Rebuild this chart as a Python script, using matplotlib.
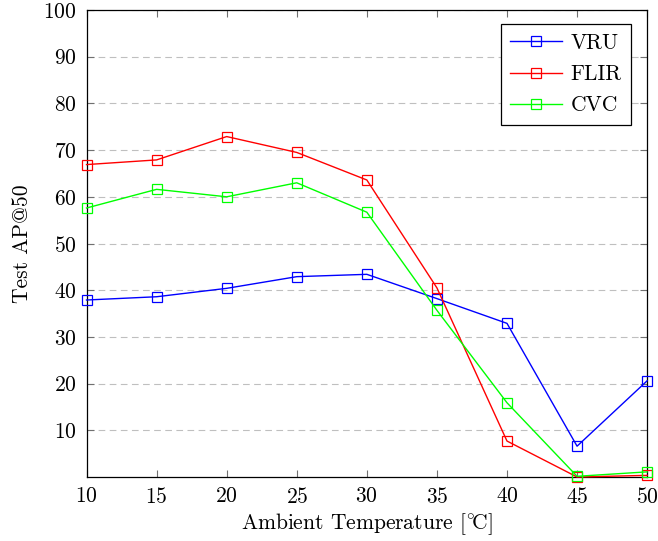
import matplotlib
matplotlib.use("Agg")
import matplotlib.pyplot as plt

plt.rcParams['font.family'] = ['cmr10', 'DejaVu Serif']
plt.rcParams['axes.formatter.use_mathtext'] = True
plt.rcParams['mathtext.fontset'] = 'cm'

temps = [10, 15, 20, 25, 30, 35, 40, 45, 50]
vru = [37.9, 38.6, 40.4, 42.9, 43.4, 38.2, 32.9, 6.6, 20.6]
flir = [66.9, 67.9, 72.9, 69.5, 63.6, 40.5, 7.7, 0.0, 0.35]
cvc = [57.6, 61.6, 60.0, 63.0, 56.7, 35.7, 15.9, 0.15, 1.1]

series = [("VRU", vru, "#0000ff"), ("FLIR", flir, "#ff0000"), ("CVC", cvc, "#00ff00")]

fs = 15.5

fig = plt.figure(figsize=(6.58, 5.41), dpi=100)
ax = fig.add_axes([0.1315, 0.1183, 0.852, 0.8632])

for name, vals, col in series:
    ax.plot(temps, vals, color=col, lw=1.0, marker='s', ms=7.5,
            mfc='none', mec=col, mew=0.9, label=name, clip_on=False, zorder=3)

ax.set_xlim(10, 50)
ax.set_ylim(0, 100)
ax.set_xticks(range(10, 51, 5))
ax.set_yticks(range(10, 101, 10))
ax.yaxis.grid(True, color='#bfbfbf', linestyle=(0, (6, 4)), lw=0.8)
ax.set_axisbelow(True)
ax.tick_params(direction='in', top=True, right=True, length=5,
               color='#707070', labelsize=fs, pad=7)
for s in ax.spines.values():
    s.set_linewidth(0.9)

ax.set_xlabel(r"Ambient Temperature [$^{\circ}\!\mathrm{C}$]", fontsize=fs, labelpad=3)
ax.set_ylabel("Test AP@50", fontsize=fs, labelpad=8)

leg = ax.legend(loc='upper right', bbox_to_anchor=(0.972, 0.971), fontsize=fs,
                fancybox=False, edgecolor='black', framealpha=1,
                handlelength=2.4, handletextpad=0.4, borderpad=0.45,
                labelspacing=0.55, borderaxespad=0)
leg.get_frame().set_linewidth(0.9)

fig.savefig("out.png", dpi=100)
